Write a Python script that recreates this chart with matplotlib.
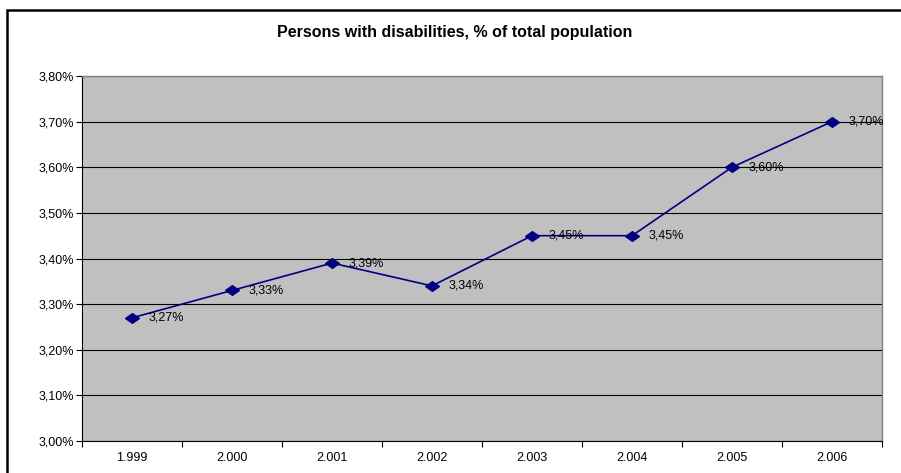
import matplotlib.pyplot as plt
import matplotlib.ticker as ticker
from matplotlib.patches import Rectangle

# ===== Data =====
years = ["1.999", "2.000", "2.001", "2.002", "2.003", "2.004", "2.005", "2.006"]
share = [3.27, 3.33, 3.39, 3.34, 3.45, 3.45, 3.60, 3.70]  # % of total population

# ===== Styling =====
navy = "#000080"
plot_bg = "#c0c0c0"
font_name = "Liberation Sans"
plt.rcParams["font.family"] = [font_name, "DejaVu Sans"]
tick_size = 9
label_size = 9

# flat diamond, wider than tall
diamond = [(-1, 0), (0, 0.7), (1, 0), (0, -0.7), (-1, 0)]


def pct(v, pos=None):
    return f"{v:.2f}%".replace(".", ",")


fig = plt.figure(figsize=(9.01, 4.73), dpi=100)
W, H = 901, 473
ax = fig.add_axes([82 / W, 1 - 441 / H, 800 / W, 365 / H])
ax.set_facecolor(plot_bg)

x = list(range(len(years)))
ax.plot(x, share, color=navy, linewidth=1.2, marker=diamond, markersize=10,
        markerfacecolor=navy, markeredgecolor=navy, zorder=3)

for xi, v in zip(x, share):
    ax.annotate(pct(v), (xi, v), xytext=(12, 0), textcoords="offset points",
                fontsize=label_size, va="center", ha="left", color="black", zorder=4)

# ===== Axes =====
ax.set_xlim(-0.5, len(years) - 0.5)
ax.set_ylim(3.0, 3.8)
ax.yaxis.set_major_locator(ticker.MultipleLocator(0.1))
ax.yaxis.set_major_formatter(ticker.FuncFormatter(pct))
ax.set_xticks(x)
ax.set_xticklabels(years)
ax.set_xticks([i + 0.5 for i in range(-1, len(years))], minor=True)
ax.tick_params(axis="x", which="major", length=0, labelsize=tick_size, pad=8)
ax.tick_params(axis="x", which="minor", length=4, width=0.8, direction="out")
ax.tick_params(axis="y", which="major", length=4, width=0.8, labelsize=tick_size, pad=2)

ax.grid(axis="y", color="black", linewidth=0.8, zorder=1)
ax.set_axisbelow(True)
for side in ("top", "right"):
    ax.spines[side].set_color("#808080")
    ax.spines[side].set_linewidth(1.0)
for side in ("left", "bottom"):
    ax.spines[side].set_color("black")
    ax.spines[side].set_linewidth(0.8)

fig.text(455 / W, 1 - 32 / H, "Persons with disabilities, % of total population",
         ha="center", va="center", fontsize=11.5, fontweight="bold")

# outer chart frame
fig.patches.append(Rectangle((7 / W, -0.05), 1.0, 1 - 10 / H + 0.05,
                             transform=fig.transFigure, fill=False,
                             edgecolor="black", linewidth=1.8))

fig.savefig("out.png", dpi=100)
